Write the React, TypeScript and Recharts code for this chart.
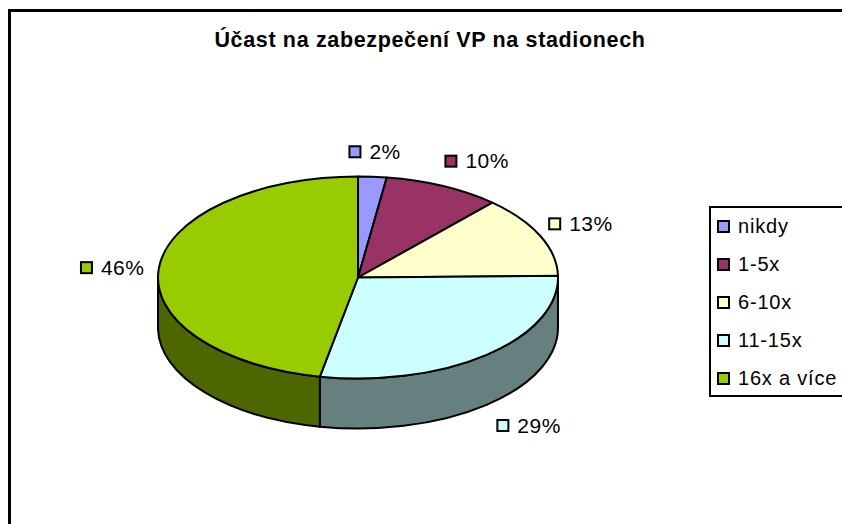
import { PieChart, Pie, Legend } from 'recharts';

const categories = ['nikdy', '1-5x', '6-10x', '11-15x', '16x a více'];
const shares = [2.3, 9.5, 13.2, 28.6, 46.4];
const topColors = ['#9999FF', '#993366', '#FFFFCC', '#CCFFFF', '#99CC00'];
const wallColors = ['#4D4D80', '#4D1A33', '#808066', '#668080', '#4D6600'];
const title = 'Účast na zabezpečení VP na stadionech';

// label offset from the rim point of each slice
const labelOffsets = [
  [-23, -25],
  [2, -25],
  [9, -12],
  [10, 71],
  [-78, 0],
];

const FONT = '"Liberation Sans", Arial, sans-serif';
const SQUASH = 0.505;
const DEPTH = 50;

const tableData = categories.map((name, i) => ({
  name,
  value: shares[i],
  fill: topColors[i],
  wall: wallColors[i],
}));

// recharts angle (counter-clockwise from 3 o'clock) to a point on the tilted rim.
// the small angle shift copies the slightly uneven projection of the old 3D pie
function rim(cx: number, cy: number, r: number, deg: number) {
  const raw = (deg * Math.PI) / 180;
  const a = ((deg + 1 - Math.sin(raw)) * Math.PI) / 180;
  return { x: cx + r * Math.cos(a), y: cy - r * SQUASH * Math.sin(a) };
}

function TiltedSlice(props: any) {
  const { cx, cy, outerRadius: r, startAngle, endAngle, fill, wall } = props;
  const rx = r;
  const ry = r * SQUASH;
  const p0 = rim(cx, cy, r, startAngle);
  const p1 = rim(cx, cy, r, endAngle);
  const large = Math.abs(startAngle - endAngle) > 180 ? 1 : 0;
  const top = `M${cx},${cy} L${p0.x},${p0.y} A${rx},${ry} 0 ${large} 1 ${p1.x},${p1.y} Z`;

  // only the part facing the viewer gets a wall (0..-180 going clockwise)
  const wStart = Math.min(startAngle, 0);
  const wEnd = Math.max(endAngle, -180);
  let side = null;
  if (wStart > wEnd) {
    const a = rim(cx, cy, r, wStart);
    const b = rim(cx, cy, r, wEnd);
    const d = `M${a.x},${a.y} A${rx},${ry} 0 0 1 ${b.x},${b.y} L${b.x},${b.y + DEPTH} A${rx},${ry} 0 0 0 ${a.x},${a.y + DEPTH} Z`;
    side = <path d={d} fill={wall} stroke="#000" strokeWidth={2} strokeLinejoin="round" />;
  }
  return (
    <g>
      {side}
      <path d={top} fill={fill} stroke="#000" strokeWidth={2} strokeLinejoin="round" />
    </g>
  );
}

function SliceLabel(props: any) {
  const { cx, cy, outerRadius, midAngle, percent, index } = props;
  const p = rim(cx, cy, outerRadius, midAngle);
  const x = p.x + labelOffsets[index][0];
  const y = p.y + labelOffsets[index][1];
  return (
    <g>
      <rect x={x} y={y - 5.5} width={11} height={11} fill={topColors[index]} stroke="#000" strokeWidth={2} />
      <text x={x + 20} y={y + 7} fontFamily={FONT} fontSize={21} fill="#000" letterSpacing={0.5}>
        {Math.round(percent * 100)}%
      </text>
    </g>
  );
}

function LegendBox({ payload }: any) {
  return (
    <div style={{ boxSizing: 'border-box', border: '2px solid #000', borderRightWidth: 0, width: 133, height: 191, position: 'relative', background: '#fff' }}>
      {(payload || []).map((entry: any, i: number) => (
        <div
          key={entry.value}
          style={{ position: 'absolute', left: 6, top: 7 + i * 38, height: 22, display: 'flex', alignItems: 'center', fontFamily: FONT, fontSize: 20, whiteSpace: 'nowrap', letterSpacing: 0.8 }}
        >
          <span style={{ boxSizing: 'border-box', width: 13, height: 13, border: '2px solid #000', background: entry.color, marginRight: 8 }} />
          {entry.value}
        </div>
      ))}
    </div>
  );
}

export default function App() {
  return (
    <div style={{ position: 'absolute', left: 0, top: 0, width: 842, height: 524, background: '#fff', overflow: 'hidden' }}>
      <div style={{ position: 'absolute', left: 8, top: 9, right: 0, height: 2.5, background: '#000' }} />
      <div style={{ position: 'absolute', left: 8, top: 9, bottom: 0, width: 2.5, background: '#000' }} />
      <PieChart width={842} height={524} margin={{ top: 0, right: 0, bottom: 0, left: 0 }} style={{ position: 'absolute', left: 0, top: 0 }}>
        <text x={430} y={47} textAnchor="middle" fontFamily={FONT} fontWeight="bold" fontSize={21.5} fill="#000" letterSpacing={0.65}>
          {title}
        </text>
        <Pie
          data={tableData}
          dataKey="value"
          nameKey="name"
          cx={358}
          cy={277.5}
          innerRadius={0}
          outerRadius={200}
          startAngle={90}
          endAngle={-270}
          stroke="#000"
          label={SliceLabel}
          labelLine={false}
          shape={TiltedSlice}
          isAnimationActive={false}
        />
        <Legend
          layout="vertical"
          align="right"
          verticalAlign="top"
          itemSorter={null}
          wrapperStyle={{ left: 709, top: 206, width: 133, margin: 0 }}
          content={LegendBox}
        />
      </PieChart>
    </div>
  );
}
